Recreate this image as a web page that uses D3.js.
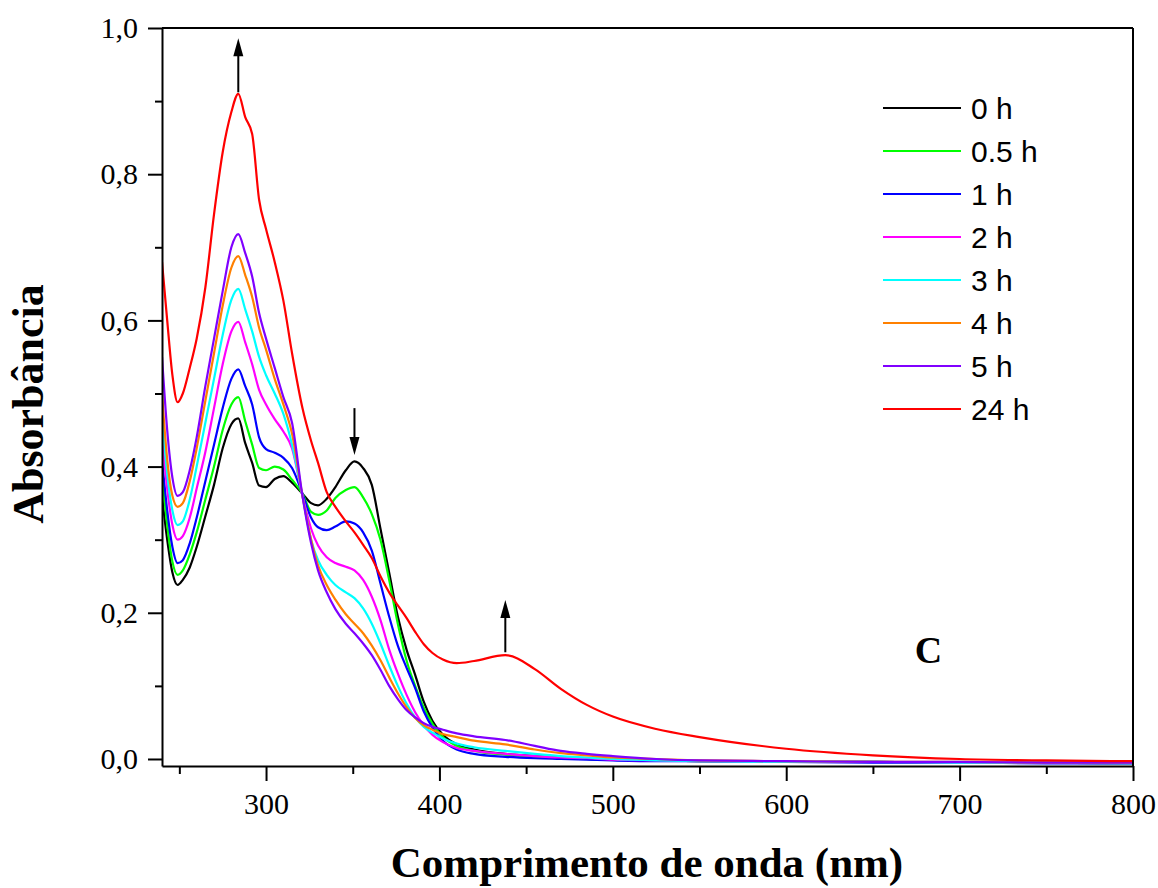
<!DOCTYPE html>
<html>
<head>
<meta charset="utf-8">
<script src="https://cdnjs.cloudflare.com/ajax/libs/d3/7.8.5/d3.min.js"></script>
<style>
body { margin: 0; background: #fff; }
</style>
</head>
<body>
<div class="chart"></div>
<script>
// wavelength grid (nm) shared by all spectra
var wavelength = [240, 243, 246, 249, 252, 256, 260, 265, 270, 275, 280, 284, 288, 292, 296, 300, 305, 310, 315, 321,
                  326, 330, 335, 340, 346, 351, 356, 361, 366, 371, 376, 381, 386, 391, 396, 402, 410, 420, 438, 455,
                  470, 485, 500, 525, 550, 600, 650, 700, 750, 800]

var abs0h = [0.36, 0.30, 0.255, 0.238, 0.245, 0.262, 0.29, 0.332, 0.375, 0.425, 0.458, 0.466, 0.432, 0.405, 0.374, 0.372, 0.383, 0.387, 0.378, 0.363,
             0.35, 0.347, 0.356, 0.372, 0.395, 0.407, 0.398, 0.375, 0.315, 0.255, 0.195, 0.15, 0.115, 0.078, 0.052, 0.033, 0.02, 0.013, 0.007, 0.004,
             0.002, 0.0, -0.001, -0.002, -0.003, -0.004, -0.004, -0.005, -0.005, -0.006]
var abs05h = [0.39, 0.32, 0.27, 0.252, 0.258, 0.28, 0.31, 0.355, 0.40, 0.45, 0.485, 0.495, 0.462, 0.43, 0.398, 0.395, 0.40, 0.396, 0.382, 0.363,
              0.338, 0.334, 0.34, 0.357, 0.368, 0.372, 0.358, 0.335, 0.30, 0.245, 0.185, 0.135, 0.10, 0.07, 0.048, 0.03, 0.018, 0.011, 0.006, 0.003,
              0.001, 0.0, -0.001, -0.002, -0.003, -0.004, -0.004, -0.005, -0.005, -0.006]
var abs1h = [0.41, 0.34, 0.29, 0.268, 0.272, 0.295, 0.33, 0.38, 0.43, 0.48, 0.52, 0.533, 0.51, 0.485, 0.44, 0.424, 0.419, 0.412, 0.398, 0.363,
             0.33, 0.317, 0.313, 0.318, 0.325, 0.322, 0.31, 0.285, 0.24, 0.195, 0.155, 0.125, 0.097, 0.065, 0.043, 0.025, 0.013, 0.007, 0.003, 0.001,
             0.0, -0.001, -0.002, -0.003, -0.003, -0.004, -0.005, -0.005, -0.006, -0.006]
var abs2h = [0.44, 0.37, 0.32, 0.30, 0.305, 0.33, 0.37, 0.42, 0.48, 0.54, 0.585, 0.598, 0.57, 0.54, 0.505, 0.485, 0.465, 0.448, 0.425, 0.36,
             0.315, 0.292, 0.276, 0.268, 0.263, 0.258, 0.245, 0.222, 0.19, 0.15, 0.117, 0.088, 0.064, 0.046, 0.033, 0.023, 0.015, 0.011, 0.007, 0.004,
             0.002, 0.001, -0.001, -0.002, -0.003, -0.004, -0.004, -0.005, -0.005, -0.006]
var abs3h = [0.47, 0.39, 0.34, 0.32, 0.325, 0.355, 0.40, 0.46, 0.52, 0.58, 0.628, 0.643, 0.615, 0.585, 0.55, 0.525, 0.50, 0.472, 0.43, 0.36,
             0.30, 0.272, 0.252, 0.238, 0.228, 0.22, 0.206, 0.185, 0.158, 0.128, 0.10, 0.076, 0.057, 0.044, 0.036, 0.028, 0.021, 0.016, 0.011, 0.007,
             0.004, 0.002, 0.0, -0.002, -0.003, -0.004, -0.004, -0.005, -0.005, -0.006]
var abs4h = [0.50, 0.41, 0.36, 0.345, 0.35, 0.38, 0.425, 0.49, 0.555, 0.62, 0.672, 0.688, 0.662, 0.632, 0.59, 0.56, 0.52, 0.485, 0.445, 0.36,
             0.30, 0.265, 0.238, 0.218, 0.198, 0.185, 0.172, 0.155, 0.135, 0.112, 0.09, 0.071, 0.056, 0.046, 0.04, 0.034, 0.03, 0.025, 0.02, 0.013,
             0.008, 0.005, 0.002, 0.0, -0.002, -0.003, -0.004, -0.004, -0.005, -0.005]
var abs5h = [0.55, 0.45, 0.385, 0.36, 0.365, 0.395, 0.44, 0.51, 0.575, 0.64, 0.70, 0.718, 0.692, 0.66, 0.61, 0.575, 0.535, 0.495, 0.46, 0.36,
             0.295, 0.258, 0.228, 0.205, 0.185, 0.172, 0.158, 0.142, 0.122, 0.10, 0.082, 0.067, 0.057, 0.049, 0.044, 0.04, 0.035, 0.031, 0.026, 0.018,
             0.011, 0.007, 0.004, 0.0, -0.002, -0.003, -0.004, -0.004, -0.005, -0.005]
var abs24h = [0.68, 0.60, 0.525, 0.488, 0.50, 0.535, 0.575, 0.645, 0.745, 0.83, 0.885, 0.91, 0.878, 0.855, 0.765, 0.725, 0.68, 0.627, 0.555, 0.48,
              0.435, 0.405, 0.365, 0.345, 0.325, 0.31, 0.293, 0.275, 0.25, 0.228, 0.21, 0.193, 0.174, 0.157, 0.145, 0.136, 0.131, 0.134, 0.142, 0.123,
              0.096, 0.074, 0.058, 0.041, 0.03, 0.014, 0.005, 0.0, -0.002, -0.003]

var seriesNames = ["0 h", "0.5 h", "1 h", "2 h", "3 h", "4 h", "5 h", "24 h"]

var xTicks = [300, 400, 500, 600, 700, 800]
var xMinor = [250, 350, 450, 550, 650, 750]
var yTicks = [0, 0.2, 0.4, 0.6, 0.8, 1.0]
var yMinor = [0.1, 0.3, 0.5, 0.7, 0.9]

// arrows: wavelength, start and end absorbance
var arrowWl = [284, 351, 438]
var arrowFrom = [0.912, 0.480, 0.146]
var arrowTo = [0.986, 0.416, 0.2175]

var series = [abs0h, abs05h, abs1h, abs2h, abs3h, abs4h, abs5h, abs24h]
var colors = ["#000000", "#00ff00", "#0000ff", "#ff00ff", "#00ffff", "#ff8000", "#8000ff", "#ff0000"]

var serif = "'Times New Roman', 'Liberation Serif', serif"
var sans = "Arial, 'Liberation Sans', sans-serif"

var svg = d3.select(".chart")
    .append("svg")
    .attr("width", 1158)
    .attr("height", 888)

var x = d3.scaleLinear().domain([240, 800]).range([162, 1133])
var y = d3.scaleLinear().domain([-0.0096, 1.0]).range([766, 28])

svg.append("clipPath")
    .attr("id", "plot")
    .append("rect")
    .attr("x", 162)
    .attr("y", 28)
    .attr("width", 1133 - 162)
    .attr("height", 766 - 28)

// curves
var line = d3.line()
    .x((d, i) => x(wavelength[i]))
    .y(d => y(d))
    .curve(d3.curveMonotoneX)

series.forEach((s, i) => {
    svg.append("path")
        .datum(s)
        .attr("d", line)
        .attr("clip-path", "url(#plot)")
        .style("fill", "none")
        .style("stroke", colors[i])
        .style("stroke-width", 2.2)
})

// frame
svg.append("line")
    .attr("x1", 162).attr("y1", 28).attr("x2", 1133).attr("y2", 28)
    .style("stroke", "black").style("stroke-width", 2)
svg.append("line")
    .attr("x1", 1133).attr("y1", 28).attr("x2", 1133).attr("y2", 766)
    .style("stroke", "black").style("stroke-width", 2)

// x axis
svg.append("g")
    .attr("transform", "translate(0,766)")
    .call(d3.axisBottom(x).tickValues(xTicks).tickSize(15).tickSizeOuter(0).tickPadding(12))
svg.append("g")
    .attr("transform", "translate(0,766)")
    .call(d3.axisBottom(x).tickValues(xMinor).tickSize(8).tickSizeOuter(0).tickFormat(""))
    .select(".domain").remove()

// y axis
svg.append("g")
    .attr("transform", "translate(162,0)")
    .call(d3.axisLeft(y).tickValues(yTicks).tickSize(14).tickSizeOuter(0).tickPadding(10)
        .tickFormat(d => d3.format(".1f")(d).replace(".", ",")))
svg.append("g")
    .attr("transform", "translate(162,0)")
    .call(d3.axisLeft(y).tickValues(yMinor).tickSize(7).tickSizeOuter(0).tickFormat(""))
    .select(".domain").remove()

svg.selectAll(".domain, .tick line")
    .style("stroke", "black")
    .style("stroke-width", 2)

svg.selectAll(".tick text")
    .style("font-family", serif)
    .style("font-size", "30px")
    .attr("fill", "black")

// arrows
arrowWl.forEach((w, i) => {
    var ax = x(w)
    var y0 = y(arrowFrom[i])
    var y1 = y(arrowTo[i])
    var dir = y1 < y0 ? 1 : -1
    svg.append("line")
        .attr("x1", ax).attr("y1", y0)
        .attr("x2", ax).attr("y2", y1 + dir * 16)
        .style("stroke", "black")
        .style("stroke-width", 2)
    svg.append("path")
        .attr("d", "M" + ax + "," + y1 + "L" + (ax - 5) + "," + (y1 + dir * 18) + "L" + (ax + 5) + "," + (y1 + dir * 18) + "Z")
        .style("fill", "black")
})

// legend
seriesNames.forEach((name, i) => {
    var ly = 108 + i * 43
    svg.append("line")
        .attr("x1", 883).attr("y1", ly)
        .attr("x2", 961).attr("y2", ly)
        .style("stroke", colors[i])
        .style("stroke-width", 2.2)
    svg.append("text")
        .attr("x", 971)
        .attr("y", ly + 11)
        .text(name)
        .style("font-family", sans)
        .style("font-size", "30px")
        .attr("fill", "black")
})

// panel letter
svg.append("text")
    .attr("x", x(682))
    .attr("y", y(0.131))
    .attr("text-anchor", "middle")
    .text("C")
    .style("font-family", serif)
    .style("font-size", "38px")
    .style("font-weight", "bold")

// axis titles
svg.append("text")
    .attr("x", 647)
    .attr("y", 877)
    .attr("text-anchor", "middle")
    .text("Comprimento de onda (nm)")
    .style("font-family", serif)
    .style("font-size", "43px")
    .style("font-weight", "bold")

svg.append("text")
    .attr("text-anchor", "middle")
    .attr("transform", "translate(43,404) rotate(-90)")
    .text("Absorbância")
    .style("font-family", serif)
    .style("font-size", "44px")
    .style("font-weight", "bold")
</script>
</body>
</html>
